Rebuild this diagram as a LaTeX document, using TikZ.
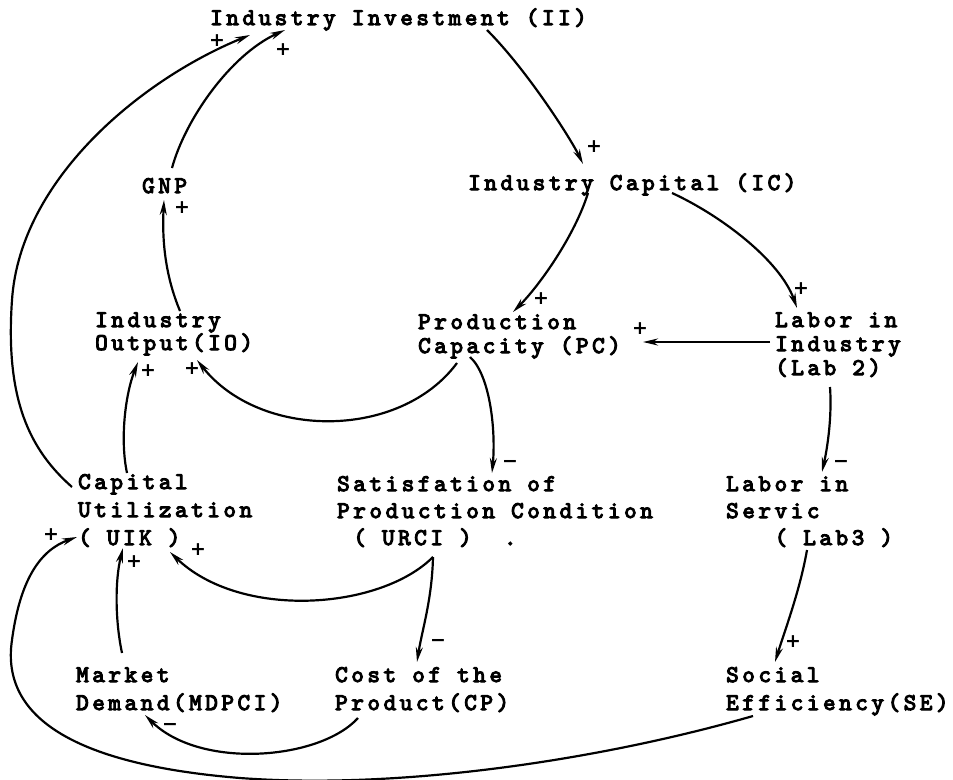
\documentclass[tikz,border=0pt]{standalone}
\usepackage{fontspec}
\usetikzlibrary{calc,arrows.meta}
\newfontfamily\tw[LetterSpace=15,FakeBold=4.5]{lmmono10-regular.otf}
\newfontfamily\sg{DejaVu Sans}
\newcommand\vl[2]{\vtop{\baselineskip=#1bp\relax #2}}
\begin{document}
\begin{tikzpicture}[x=1bp,y=-1bp,
  lbl/.style={font=\tw\fontsize{24}{24}\selectfont, inner sep=0pt, anchor=base west},
  sgn/.style={font=\sg\bfseries\fontsize{19}{19}\selectfont, inner sep=0pt},
  conn/.style={line width=2.2pt, -{Stealth[length=15bp,width=7bp]}}]
\useasboundingbox[fill=white] (0,0) rectangle (953,780);
% nodes
\node[lbl] (II) at (210,25) {Industry Investment (II)};
\node[lbl] (GNP) at (142,193) {GNP};
\node[lbl] (IC) at (468,190) {Industry Capital (IC)};
\node[lbl] (IO) at (95,327) {\vl{23}{\hbox{Industry}\hbox{Output(IO)}}};
\node[lbl] (PC) at (418,329) {\vl{24}{\hbox{Production}\hbox{Capacity (PC)}}};
\node[lbl] (LabII) at (775,327) {\vl{24}{\hbox{Labor in}\hbox{Industry}\hbox{(Lab 2)}}};
\node[lbl] (UIK) at (78,489) {\vl{28}{\hbox{Capital}\hbox{Utilization}\hbox{( UIK )}}};
\node[lbl] (URCI) at (337,491) {\vl{27}{\hbox{Satisfation of}\hbox{Production Condition}\hbox{\ ( URCI )\ \ .}}};
\node[lbl] (LabIII) at (726,491) {\vl{27}{\hbox{Labor in}\hbox{Servic}\hbox{\ \ \ ( Lab3 )}}};
\node[lbl] (MD) at (76,682) {\vl{28}{\hbox{Market}\hbox{Demand(MDPCI)}}};
\node[lbl] (CP) at (335,682) {\vl{28}{\hbox{Cost of the}\hbox{Product(CP)}}};
\node[lbl] (SE) at (726,682) {\vl{28}{\hbox{Social}\hbox{Efficiency(SE)}}};
% connectors
\draw[conn] ($(II.base west)+(277,5)$) .. controls +(40,40) and +(-12,-25) .. ($(IC.base west)+(115,-26)$);
\draw[conn] ($(GNP.base west)+(30,-25)$) .. controls +(13,-48) and +(-55,25) .. ($(II.base west)+(75,5)$);
\draw[conn] ($(UIK.base west)+(-6,-2)$) .. controls +(-42,-37) and +(-7,100) .. ($(UIK.base west)+(-66,-189)$)
   .. controls +(8,-120) and +(-110,45) .. ($(II.base west)+(40,10)$);
\draw[conn] ($(IO.base west)+(85,-16)$) .. controls +(-15,-36) and +(-2,40) .. ($(GNP.base west)+(22,7)$);
\draw[conn] ($(IC.base west)+(120,3)$) .. controls +(-13,42) and +(27,-27) .. ($(PC.base west)+(95,-17)$);
\draw[conn] ($(IC.base west)+(204,3)$) .. controls +(48,22) and +(-17,-48) .. ($(LabII.base west)+(22,-19)$);
\draw[conn] ($(LabII.base west)+(-5,15)$) -- ($(PC.base west)+(225,13)$);
\draw[conn] ($(PC.base west)+(39,34)$) .. controls +(-57,77) and +(63,80) .. ($(IO.base west)+(102,33)$);
\draw[conn] ($(UIK.base west)+(49,-16)$) .. controls +(-7,-33) and +(-13,33) .. ($(IO.base west)+(43,35)$);
\draw[conn] ($(PC.base west)+(52,28)$) .. controls +(20,18) and +(4,-43) .. ($(URCI.base west)+(155,-18)$);
\draw[conn] ($(LabII.base west)+(55,60)$) .. controls +(2,28) and +(6,-27) .. ($(LabIII.base west)+(96,-19)$);
\draw[conn] ($(URCI.base west)+(96,66)$) .. controls +(-53,53) and +(70,68) .. ($(UIK.base west)+(92,63)$);
\draw[conn] ($(URCI.base west)+(96,66)$) .. controls +(-1,43) and +(5,-32) .. ($(CP.base west)+(82,-20)$);
\draw[conn] ($(MD.base west)+(46,-29)$) .. controls +(-7,-33) and +(-8,32) .. ($(UIK.base west)+(45,59)$);
\draw[conn] ($(CP.base west)+(23,36)$) .. controls +(-38,42) and +(55,55) .. ($(MD.base west)+(69,33)$);
\draw[conn] ($(SE.base west)+(27,34)$) .. controls +(-153,44) and +(160,12) .. ($(SE.base west)+(-486,96)$)
   .. controls +(-160,-13) and +(-12,80) .. ($(UIK.base west)+(-66,151)$)
   .. controls +(8,-60) and +(-37,13) .. ($(UIK.base west)+(-1,48)$);
\draw[conn] ($(LabIII.base west)+(81,59)$) .. controls +(-7,40) and +(10,-32) .. ($(SE.base west)+(49,-20)$);
% signs
\node[sgn] (s1) at (594,147) {+};
\node[sgn] (s2) at (283,50) {+};
\node[sgn] (s3) at (217,41) {+};
\node[sgn] (s4) at (182,208) {+};
\node[sgn] (s5) at (541,299) {+};
\node[sgn] (s6) at (801,289) {+};
\node[sgn] (s7) at (640,329) {+};
\node[sgn] (s8) at (148,371) {+};
\node[sgn] (s9) at (192,369) {+};
\node[sgn] (s10) at (510,464) {−};
\node[sgn] (s11) at (841,464) {−};
\node[sgn] (s12) at (198,550) {+};
\node[sgn] (s13) at (438,643) {−};
\node[sgn] (s14) at (134,562) {+};
\node[sgn] (s15) at (170,727) {−};
\node[sgn] (s16) at (51,535) {+};
\node[sgn] (s17) at (793,642) {+};
\end{tikzpicture}
\end{document}
